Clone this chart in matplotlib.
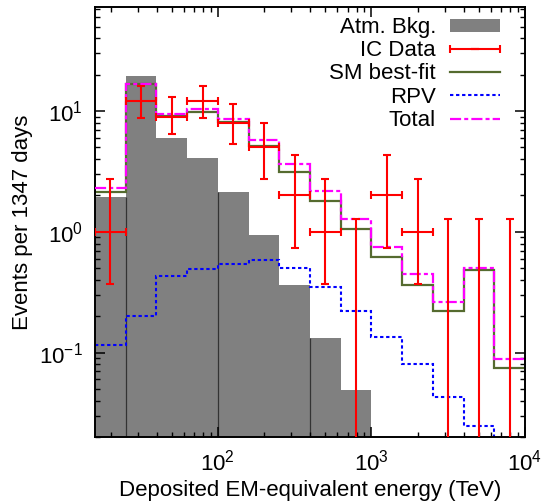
import numpy as np
import matplotlib
matplotlib.use("Agg")
import matplotlib.pyplot as plt
from matplotlib.legend_handler import HandlerErrorbar
from matplotlib.patches import Patch
from matplotlib.lines import Line2D

plt.rcParams['font.family'] = ['Liberation Sans', 'DejaVu Sans']
plt.rcParams['mathtext.fontset'] = 'custom'
plt.rcParams['mathtext.rm'] = 'Liberation Sans'
plt.rcParams['mathtext.it'] = 'Liberation Sans:italic'
plt.rcParams['mathtext.bf'] = 'Liberation Sans:bold'
plt.rcParams['axes.unicode_minus'] = False

FS = 16

# ---- data ----
edge_exponents = [1.2, 1.4, 1.6, 1.8, 2.0, 2.2, 2.4, 2.6, 2.8, 3.0, 3.2, 3.4, 3.6, 3.8, 4.0]
atm_bkg = [1.93, 19.5, 6.0, 4.1, 2.14, 0.94, 0.364, 0.132, 0.049, 0, 0, 0, 0, 0]
ic_data = [1, 12, 9, 12, 8, 5, 2, 1, 0, 2, 1, 0, 0, 0]
ic_lo = [0.37, 8.8, 6.4, 8.8, 5.3, 2.75, 0.73, 0.37, 0, 0.73, 0.37, 0, 0, 0]
ic_hi = [2.75, 16.2, 13.0, 16.2, 11.4, 7.95, 4.3, 2.75, 1.27, 4.3, 2.75, 1.27, 1.27, 1.27]
sm_fit = [2.14, 16.6, 9.15, 9.87, 8.1, 5.13, 3.15, 1.81, 1.06, 0.62, 0.365, 0.221, 0.482, 0.0747]
rpv = [0.116, 0.20, 0.43, 0.494, 0.543, 0.583, 0.5, 0.35, 0.22, 0.134, 0.08, 0.0427, 0.0248, 0.012]
total = [2.29, 16.8, 9.5, 10.45, 8.63, 5.75, 3.67, 2.17, 1.28, 0.75, 0.448, 0.263, 0.503, 0.0887]
bkg_edge_lines = [1, 4, 7]

edges = 10.0 ** np.array(edge_exponents)
centers = np.sqrt(edges[:-1] * edges[1:])
atm_bkg = np.array(atm_bkg, float)
ic_data = np.array(ic_data, float)
ic_lo = np.array(ic_lo, float)
ic_hi = np.array(ic_hi, float)

fig = plt.figure(figsize=(5.5, 5.04), dpi=100)
ax = fig.add_axes([95 / 550, (504 - 437) / 504, 430 / 550, 430 / 504])
ax.set_xscale('log')
ax.set_yscale('log')
ax.set_xlim(edges[0], edges[-1])
ax.set_ylim(0.02, 72.7)

# atmospheric background
ax.bar(edges[:-1], atm_bkg, width=np.diff(edges), align='edge', color='#808080',
       linewidth=0, zorder=1)
for k in bkg_edge_lines:
    ax.vlines(edges[k], 1e-4, min(atm_bkg[k - 1], atm_bkg[k]), color='#333333',
              linewidth=0.9, zorder=1.5)

ax.stairs(sm_fit, edges, baseline=None, color='#556b2f', linewidth=1.6, zorder=2)
ax.stairs(rpv, edges, baseline=None, color='#0000ff', linewidth=1.5,
          linestyle=(0, (1.6, 1.3)), zorder=2)
ax.stairs(total, edges, baseline=None, color='#ff00ff', linewidth=1.6,
          linestyle=(0, (5.0, 1.4, 1.8, 1.4)), zorder=3)

# data
nz = ic_data > 0
xerr = np.array([centers - edges[:-1], edges[1:] - centers])
eb = ax.errorbar(centers[nz], ic_data[nz],
                 xerr=xerr[:, nz],
                 yerr=[ic_data[nz] - ic_lo[nz], ic_hi[nz] - ic_data[nz]],
                 fmt='none', ecolor='#ff0000', elinewidth=1.5, capsize=3,
                 capthick=1.5, zorder=4)
z = ~nz
ax.errorbar(centers[z], ic_hi[z], yerr=[ic_hi[z] - 1e-4, np.zeros(z.sum())],
            fmt='none', ecolor='#ff0000', elinewidth=1.5, capsize=3,
            capthick=1.5, zorder=4)

# ticks
ax.tick_params(which='both', direction='in', top=True, right=True, labelsize=FS)
ax.tick_params(which='major', length=7, width=1.1)
ax.tick_params(which='minor', length=3.5, width=1.0)
ax.tick_params(axis='x', which='major', pad=9)
ax.tick_params(axis='y', which='major', pad=8.5)
ax.xaxis.set_major_locator(matplotlib.ticker.LogLocator(base=10, numticks=10))
ax.xaxis.set_minor_locator(matplotlib.ticker.LogLocator(base=10, subs=np.arange(2, 10), numticks=20))
ax.yaxis.set_minor_locator(matplotlib.ticker.LogLocator(base=10, subs=np.arange(2, 10), numticks=20))
ax.xaxis.set_minor_formatter(matplotlib.ticker.NullFormatter())
ax.yaxis.set_minor_formatter(matplotlib.ticker.NullFormatter())
for s in ax.spines.values():
    s.set_linewidth(1.4)

ax.set_xlabel('Deposited EM-equivalent energy (TeV)', fontsize=FS)
ax.set_ylabel('Events per 1347 days', fontsize=FS)
ax.xaxis.set_label_coords(0.5, -0.1)
ax.yaxis.set_label_coords(-0.144, 0.5)

# legend
h_bkg = Patch(facecolor='#808080', edgecolor='none')
h_sm = Line2D([], [], color='#556b2f', linewidth=1.6)
h_rpv = Line2D([], [], color='#0000ff', linewidth=1.5, linestyle=(0, (1.6, 1.3)))
h_tot = Line2D([], [], color='#ff00ff', linewidth=1.6, linestyle=(0, (5.0, 1.4, 1.8, 1.4)))
leg = ax.legend([h_bkg, eb, h_sm, h_rpv, h_tot],
                ['Atm. Bkg.', 'IC Data', 'SM best-fit', 'RPV', 'Total'],
                loc='upper right', bbox_to_anchor=((500 - 95) / 430, (437 - 17) / 430),
                frameon=False, markerfirst=False, fontsize=FS,
                handlelength=2.25, handleheight=0.54, handletextpad=0.63,
                labelspacing=0.1, borderpad=0, borderaxespad=0,
                handler_map={type(eb): HandlerErrorbar(xerr_size=1.125, yerr_size=0)})

fig.savefig('out.png', dpi=100)
